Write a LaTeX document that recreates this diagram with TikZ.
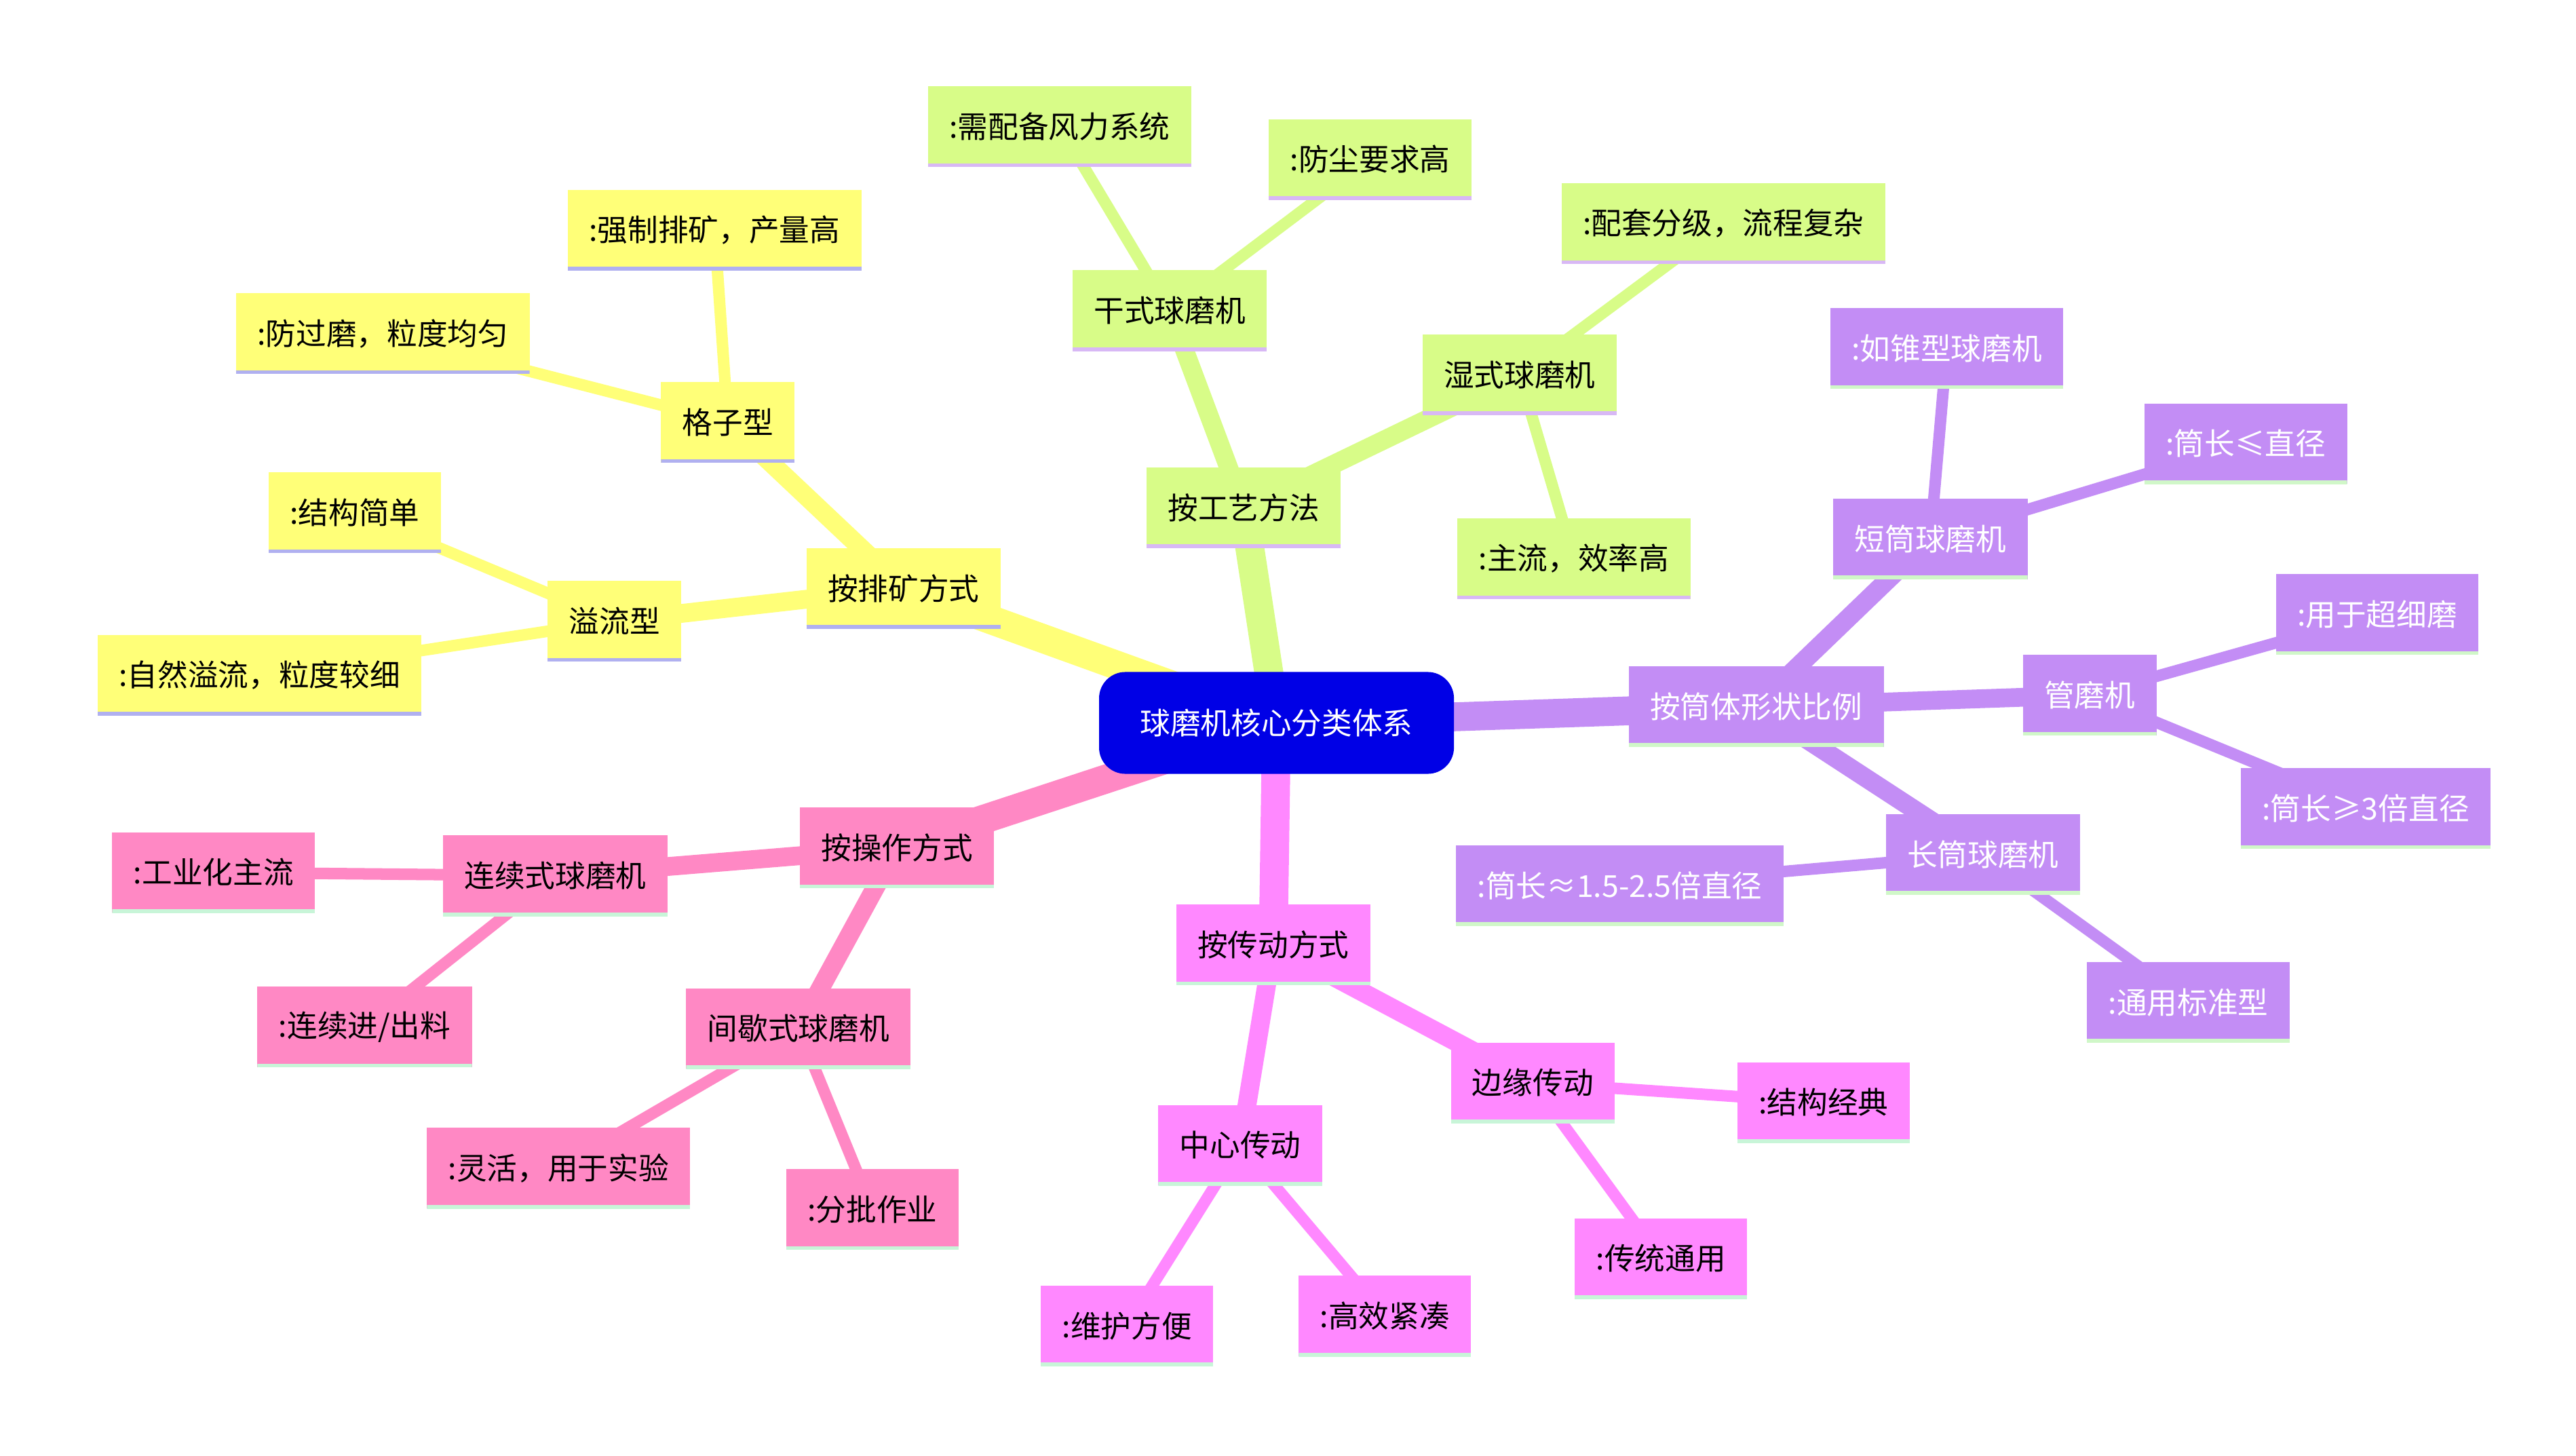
\documentclass[tikz,border=0pt]{standalone}
\usepackage{fontspec}
\setmainfont{Noto Sans CJK SC}
\usetikzlibrary{positioning}
\definecolor{rootc}{HTML}{0000E6}
\definecolor{yelc}{HTML}{FFFF78}
\definecolor{grnc}{HTML}{D8FC88}
\definecolor{purc}{HTML}{C38DF5}
\definecolor{magc}{HTML}{FF88FF}
\definecolor{pnkc}{HTML}{FF88C4}
\definecolor{yelb}{HTML}{B0B0F0}
\definecolor{grnb}{HTML}{D8B8F5}
\definecolor{purb}{HTML}{D0F7C8}
\definecolor{pnkb}{HTML}{C8F5D8}
\pgfdeclarelayer{bg}
\pgfsetlayers{bg,main}
\begin{document}
\begin{tikzpicture}[x=0.02cm,y=-0.02cm,
  mm/.style 2 args={
    rectangle,
    fill=#1,
    minimum height=0.98cm,
    inner xsep=0.26cm,
    font=\fontsize{10.5pt}{12pt}\selectfont,
    path picture={\draw[#2,line width=2.4pt]
      (path picture bounding box.south west) --
      (path picture bounding box.south east);}},
  ye/.style={mm={yelc}{yelb}},
  gr/.style={mm={grnc}{grnb}},
  pu/.style={mm={purc}{purb},text=white},
  ma/.style={mm={magc}{pnkb}},
  pk/.style={mm={pnkc}{pnkb}},
  lnk/.style 2 args={draw=#1,line width=#2,line cap=round},
]
  \useasboundingbox (0,0) rectangle (1568,886);

  % root
  \node[fill=rootc,text=white,rounded corners=0.32cm,minimum height=1.24cm,
    inner xsep=0.5cm,font=\fontsize{10.5pt}{12pt}\selectfont] (root) at (777,440) {球磨机核心分类体系};

  % discharge
  \node[ye] (dis) at (550,358) {按排矿方式};
  \node[ye] (grid) at (443,257) {格子型};
  \node[ye] (grid1) at (435,140) {:强制排矿，产量高};
  \node[ye] (grid2) at (233,203) {:防过磨，粒度均匀};
  \node[ye] (ovf) at (374,378) {溢流型};
  \node[ye] (ovf1) at (216,312) {:结构简单};
  \node[ye] (ovf2) at (158,411) {:自然溢流，粒度较细};

  % process
  \node[gr] (proc) at (757,309) {按工艺方法};
  \node[gr] (dry) at (712,189) {干式球磨机};
  \node[gr] (dry1) at (645,77) {:需配备风力系统};
  \node[gr] (dry2) at (834,97) {:防尘要求高};
  \node[gr] (wet) at (925,228) {湿式球磨机};
  \node[gr] (wet1) at (1049,136) {:配套分级，流程复杂};
  \node[gr] (wet2) at (958,340) {:主流，效率高};

  % shape ratio
  \node[pu] (shp) at (1069,430) {按筒体形状比例};
  \node[pu] (short) at (1175,328) {短筒球磨机};
  \node[pu] (short1) at (1185,212) {:如锥型球磨机};
  \node[pu] (short2) at (1367,270) {:筒长≤直径};
  \node[pu] (tube) at (1272,423) {管磨机};
  \node[pu] (tube1) at (1447,374) {:用于超细磨};
  \node[pu] (tube2) at (1440,492) {:筒长≥3倍直径};
  \node[pu] (long) at (1207,520) {长筒球磨机};
  \node[pu] (long1) at (986,539) {:筒长≈1.5-2.5倍直径};
  \node[pu] (long2) at (1332,610) {:通用标准型};

  % drive
  \node[ma] (drv) at (775,575) {按传动方式};
  \node[ma] (cen) at (755,697) {中心传动};
  \node[ma] (cen1) at (686,807) {:维护方便};
  \node[ma] (cen2) at (843,801) {:高效紧凑};
  \node[ma] (edg) at (933,659) {边缘传动};
  \node[ma] (edg1) at (1110,671) {:结构经典};
  \node[ma] (edg2) at (1011,766) {:传统通用};

  % operation
  \node[pk] (op) at (546,516) {按操作方式};
  \node[pk] (cont) at (338,533) {连续式球磨机};
  \node[pk] (cont1) at (130,531) {:工业化主流};
  \node[pk] (cont2) at (222,625) {:连续进/出料};
  \node[pk] (bat) at (486,626) {间歇式球磨机};
  \node[pk] (bat1) at (340,711) {:灵活，用于实验};
  \node[pk] (bat2) at (531,736) {:分批作业};

  \begin{pgfonlayer}{bg}
    \draw[lnk={yelc}{10pt}] (root.center) -- (dis.center);
    \draw[lnk={grnc}{10pt}] (root.center) -- (proc.center);
    \draw[lnk={purc}{10pt}] (root.center) -- (shp.center);
    \draw[lnk={magc}{10pt}] (root.center) -- (drv.center);
    \draw[lnk={pnkc}{10pt}] (root.center) -- (op.center);
    \foreach \a/\b in {dis/grid,dis/ovf}
      \draw[lnk={yelc}{6.5pt}] (\a.center) -- (\b.center);
    \foreach \a/\b in {grid/grid1,grid/grid2,ovf/ovf1,ovf/ovf2}
      \draw[lnk={yelc}{4pt}] (\a.center) -- (\b.center);
    \foreach \a/\b in {proc/dry,proc/wet}
      \draw[lnk={grnc}{6.5pt}] (\a.center) -- (\b.center);
    \foreach \a/\b in {dry/dry1,dry/dry2,wet/wet1,wet/wet2}
      \draw[lnk={grnc}{4pt}] (\a.center) -- (\b.center);
    \foreach \a/\b in {shp/short,shp/tube,shp/long}
      \draw[lnk={purc}{6.5pt}] (\a.center) -- (\b.center);
    \foreach \a/\b in {short/short1,short/short2,tube/tube1,tube/tube2,long/long1,long/long2}
      \draw[lnk={purc}{4pt}] (\a.center) -- (\b.center);
    \foreach \a/\b in {drv/cen,drv/edg}
      \draw[lnk={magc}{6.5pt}] (\a.center) -- (\b.center);
    \foreach \a/\b in {cen/cen1,cen/cen2,edg/edg1,edg/edg2}
      \draw[lnk={magc}{4pt}] (\a.center) -- (\b.center);
    \foreach \a/\b in {op/cont,op/bat}
      \draw[lnk={pnkc}{6.5pt}] (\a.center) -- (\b.center);
    \foreach \a/\b in {cont/cont1,cont/cont2,bat/bat1,bat/bat2}
      \draw[lnk={pnkc}{4pt}] (\a.center) -- (\b.center);
  \end{pgfonlayer}
\end{tikzpicture}
\end{document}
